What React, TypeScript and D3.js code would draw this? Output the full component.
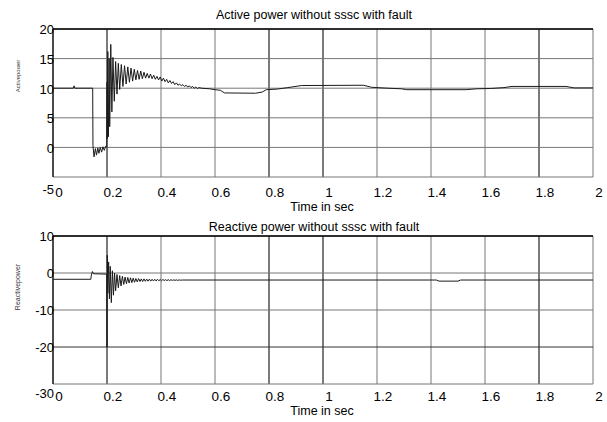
import React from "react";
import * as d3 from "d3";

const xTicks = [0, 0.2, 0.4, 0.6, 0.8, 1, 1.2, 1.4, 1.6, 1.8, 2];
const xTickLabels = ["0", "0.2", "0.4", "0.6", "0.8", "1", "1.2", "1.4", "1.6", "1.8", "2"];
const activeYTicks = [-5, 0, 5, 10, 15, 20];
const reactiveYTicks = [-30, -20, -10, 0, 10];

const activeTitle = "Active power without sssc with fault";
const reactiveTitle = "Reactive power without sssc with fault";
const xLabel = "Time in sec";
const activeYLabel = "Activepower";
const reactiveYLabel = "Reactivepower";

const activeTime = [
  0, 0.075, 0.078, 0.081, 0.147, 0.148, 0.152, 0.157, 0.161, 0.166, 0.17, 0.175, 0.18, 0.185, 0.19, 0.195, 0.199,
  0.2, 0.201, 0.203, 0.205, 0.208, 0.21, 0.214, 0.218, 0.222, 0.227, 0.232, 0.237, 0.242, 0.247, 0.253, 0.259,
  0.265, 0.271, 0.277, 0.283, 0.289, 0.295, 0.301, 0.307, 0.313, 0.319, 0.325, 0.331, 0.337, 0.343, 0.349, 0.355,
  0.361, 0.367, 0.373, 0.379, 0.385, 0.391, 0.397, 0.403, 0.409, 0.415, 0.421, 0.427, 0.433, 0.439, 0.445, 0.451,
  0.457, 0.463, 0.469, 0.475, 0.481, 0.487, 0.493, 0.499, 0.505, 0.511, 0.517, 0.523, 0.529, 0.535, 0.541, 0.55,
  0.58, 0.6, 0.62, 0.635, 0.75, 0.775, 0.79, 0.83, 0.87, 0.92, 1.15, 1.18, 1.24, 1.29, 1.31, 1.53, 1.57, 1.62,
  1.67, 1.7, 1.9, 1.93, 2.0,
];
const activePower = [
  10, 10, 10.4, 10, 10, 0.3, -1.6, -0.2, -1.3, -0.1, -1.0, 0.0, -0.8, 0.1, -0.5, 0.2, 0.0,
  11.0, 1.5, 16.2, 1.8, 15.0, 3.5, 17.4, 6.0, 15.2, 7.8, 14.5, 9.0, 14.2, 9.8, 14.0, 10.3,
  13.8, 10.7, 13.6, 11.0, 13.4, 11.2, 13.2, 11.4, 13.0, 11.5, 12.9, 11.6, 12.7, 11.7, 12.5, 11.7,
  12.4, 11.6, 12.2, 11.5, 12.0, 11.4, 11.9, 11.2, 11.7, 11.1, 11.5, 10.9, 11.3, 10.8, 11.1, 10.6,
  10.9, 10.5, 10.7, 10.4, 10.6, 10.3, 10.5, 10.2, 10.4, 10.1, 10.3, 10.0, 10.2, 9.95, 10.1, 10.0,
  9.9, 9.75, 9.65, 9.2, 9.15, 9.35, 9.75, 9.85, 10.1, 10.45, 10.5, 10.15, 10.0, 9.9, 9.75, 9.75, 9.9, 9.95,
  10.1, 10.3, 10.3, 10.05, 10.05,
];

const reactiveTime = [
  0, 0.14, 0.142, 0.146, 0.15, 0.199, 0.2, 0.201, 0.203, 0.206, 0.209, 0.212, 0.216, 0.22, 0.224, 0.228,
  0.232, 0.237, 0.242, 0.247, 0.252, 0.257, 0.262, 0.267, 0.272, 0.277, 0.282, 0.287, 0.292, 0.297, 0.302,
  0.307, 0.312, 0.317, 0.322, 0.327, 0.332, 0.337, 0.342, 0.347, 0.352, 0.357, 0.362, 0.367, 0.372, 0.377,
  0.382, 0.387, 0.392, 0.397, 0.402, 0.407, 0.412, 0.417, 0.422, 0.427, 0.432, 0.437, 0.442, 0.447, 0.452,
  0.457, 0.462, 0.467, 0.472, 0.48, 1.42, 1.43, 1.5, 1.51, 2.0,
];
const reactivePower = [
  -1.7, -1.7, -0.6, 0.4, -0.2, -0.3, -20, 4.8, -5.5, 3.0, -7.0, 1.8, -8.0, 0.6, -6.0, 0.0,
  -4.8, -0.4, -4.0, -0.7, -3.5, -0.9, -3.1, -1.1, -2.9, -1.2, -2.7, -1.3, -2.6, -1.4, -2.5,
  -1.5, -2.4, -1.5, -2.3, -1.6, -2.3, -1.6, -2.25, -1.65, -2.2, -1.65, -2.2, -1.7, -2.15, -1.7,
  -2.15, -1.7, -2.1, -1.75, -2.1, -1.75, -2.05, -1.8, -2.05, -1.8, -2.05, -1.8, -2.0, -1.85, -2.0,
  -1.85, -2.0, -1.85, -1.95, -1.9, -1.9, -2.2, -2.2, -1.9, -1.9,
];

const FONT = "'Liberation Sans', Arial, sans-serif";
const darkX = [0.2, 0.8, 1, 1.8];

type PanelProps = {
  top: number;
  bottom: number;
  domain: [number, number];
  yTicks: number[];
  times: number[];
  values: number[];
  title: string;
  titleY: number;
  yLabel: string;
  yLabelY: number;
  yLabelSize: number;
  xTickY: number;
  xLabelY: number;
  darkY: number[];
};

function Panel(p: PanelProps) {
  const left = 53;
  const right = 593;
  const x = d3.scaleLinear().domain([0, 2]).range([left, right]);
  const y = d3.scaleLinear().domain(p.domain).range([p.bottom, p.top]);
  const pts = p.times.map((t, i) => [t, p.values[i]] as [number, number]);
  const line = d3
    .line<[number, number]>()
    .x((d) => x(d[0]))
    .y((d) => y(d[1]));
  const minY = p.domain[0];
  return (
    <g>
      {xTicks.map((t) => (
        <line
          key={"vx" + t}
          x1={x(t)}
          x2={x(t)}
          y1={p.top}
          y2={p.bottom}
          stroke={darkX.includes(t) ? "#222" : "#777"}
          strokeWidth={darkX.includes(t) ? 1.2 : 1}
        />
      ))}
      {p.yTicks.map((v) => (
        <line
          key={"hy" + v}
          x1={left}
          x2={right}
          y1={y(v)}
          y2={y(v)}
          stroke={p.darkY.includes(v) ? "#333" : "#777"}
          strokeWidth={1}
        />
      ))}
      <line x1={left} x2={right} y1={p.top} y2={p.top} stroke="#000" strokeWidth={1.6} />
      <line x1={left} x2={left} y1={p.top} y2={p.bottom} stroke="#000" strokeWidth={1.2} />
      <path d={line(pts) || ""} fill="none" stroke="#1a1a1a" strokeWidth={1} />
      {p.yTicks.map((v) => (
        <text
          key={"yl" + v}
          x={left + 1}
          y={v === minY ? p.xTickY : y(v) + 2}
          textAnchor="end"
          dominantBaseline="middle"
          fontFamily={FONT}
          fontSize={13}
          fill="#000"
        >
          {v}
        </text>
      ))}
      {xTicks.map((t, i) => (
        <text
          key={"xl" + t}
          x={x(t) + 6}
          y={p.xTickY + 2}
          textAnchor="middle"
          dominantBaseline="middle"
          fontFamily={FONT}
          fontSize={13.5}
          fill="#000"
        >
          {xTickLabels[i]}
        </text>
      ))}
      <text
        x={314}
        y={p.titleY}
        textAnchor="middle"
        dominantBaseline="middle"
        fontFamily={FONT}
        fontSize={12.5}
        fill="#000"
      >
        {p.title}
      </text>
      <text
        x={322}
        y={p.xLabelY}
        textAnchor="middle"
        dominantBaseline="middle"
        fontFamily={FONT}
        fontSize={12.5}
        fill="#000"
      >
        {xLabel}
      </text>
      <text
        transform={`translate(18,${p.yLabelY}) rotate(-90)`}
        textAnchor="middle"
        dominantBaseline="middle"
        fontFamily={FONT}
        fontSize={p.yLabelSize}
        fill="#333"
      >
        {p.yLabel}
      </text>
    </g>
  );
}

export default function App() {
  return (
    <svg
      width={607}
      height={422}
      style={{ position: "absolute", left: 0, top: 0, background: "#fff" }}
    >
      <rect width={607} height={422} fill="#fff" />
      <Panel
        top={29}
        bottom={177}
        domain={[-5, 20]}
        yTicks={activeYTicks}
        times={activeTime}
        values={activePower}
        title={activeTitle}
        titleY={16}
        yLabel={activeYLabel}
        yLabelY={76}
        yLabelSize={6}
        xTickY={191}
        xLabelY={208}
        darkY={[]}
      />
      <Panel
        top={236}
        bottom={384}
        domain={[-30, 10]}
        yTicks={reactiveYTicks}
        times={reactiveTime}
        values={reactivePower}
        title={reactiveTitle}
        titleY={228}
        yLabel={reactiveYLabel}
        yLabelY={287}
        yLabelSize={7}
        xTickY={395}
        xLabelY={412}
        darkY={[-20]}
      />
    </svg>
  );
}
